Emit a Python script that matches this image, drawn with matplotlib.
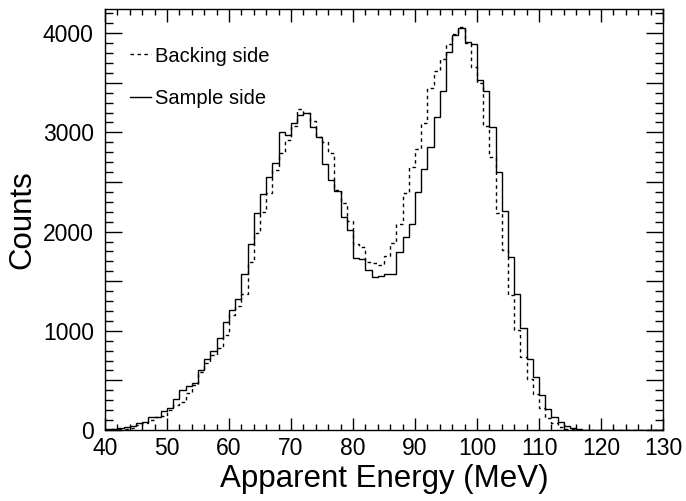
import matplotlib
matplotlib.use("Agg")
import matplotlib.pyplot as plt
from matplotlib.ticker import MultipleLocator, FuncFormatter
import numpy as np

plt.rcParams['font.family'] = ['Liberation Sans', 'DejaVu Sans']

# 1 MeV bins, lower edges 40..129
edges = np.arange(40, 131, 1)

# Sample side (solid)
sample = [10, 15, 22, 35, 45, 75, 85, 130, 135, 195,
          225, 310, 400, 440, 475, 600, 720, 800, 925, 1085,
          1205, 1325, 1575, 1875, 2184, 2378, 2554, 2688, 3000, 2974,
          3098, 3175, 3192, 3058, 2955, 2678, 2520, 2405, 2150, 2016,
          1730, 1725, 1615, 1542, 1552, 1570, 1575, 1798, 1949, 2080,
          2402, 2628, 2856, 3152, 3417, 3807, 3982, 4056, 3914, 3893,
          3530, 3417, 3051, 2604, 2211, 1740, 1370, 1025, 712, 535,
          355, 212, 130, 77, 40, 17, 8, 5, 3, 2,
          2, 1, 1, 1, 0, 0, 0, 0, 0, 0]

# Backing side (dashed)
backing = [5, 8, 12, 15, 20, 50, 67, 100, 128, 141,
           202, 252, 280, 370, 454, 581, 672, 756, 823, 958,
           1159, 1250, 1367, 1697, 1982, 2200, 2386, 2621, 2789, 2923,
           3060, 3240, 3200, 3120, 2950, 2906, 2789, 2420, 2285, 2110,
           1880, 1848, 1697, 1680, 1663, 1754, 1888, 2076, 2386, 2650,
           2829, 3091, 3444, 3622, 3736, 3891, 3992, 4059, 3900, 3662,
           3494, 3064, 2755, 2184, 1814, 1360, 1008, 735, 515, 358,
           225, 118, 70, 34, 15, 8, 4, 3, 2, 1,
           1, 1, 0, 0, 0, 0, 0, 0, 0, 0]

fig = plt.figure(figsize=(6.86, 5.01), dpi=100)
ax = fig.add_axes([0.153, 0.1417, 0.8135, 0.8403])

ax.stairs(backing, edges, color='black', lw=1.0, linestyle=(0, (2.5, 2.5)),
          baseline=None, label='Backing side')
ax.stairs(sample, edges, color='black', lw=1.0, baseline=None,
          label='Sample side')

ax.set_xlim(40, 130)
ax.set_ylim(0, 4244)

ax.xaxis.set_major_locator(MultipleLocator(10))
ax.xaxis.set_minor_locator(MultipleLocator(2))
ax.yaxis.set_major_locator(MultipleLocator(500))
ax.yaxis.set_minor_locator(MultipleLocator(100))
ax.yaxis.set_major_formatter(FuncFormatter(lambda v, p: '%d' % v if v % 1000 == 0 else ''))

ax.tick_params(which='both', direction='in', top=True, right=True, labelsize=16.5)
ax.tick_params(axis='y', which='major', length=12, width=1.0, pad=8)
ax.tick_params(axis='y', which='minor', length=6, width=1.0)
ax.tick_params(axis='x', which='major', length=9, width=1.0, pad=5)
ax.tick_params(axis='x', which='minor', length=4.5, width=1.0)
for s in ax.spines.values():
    s.set_linewidth(1.0)

ax.set_xlabel('Apparent Energy (MeV)', fontsize=22.5, labelpad=3)
ax.set_ylabel('Counts', fontsize=22.5, labelpad=4)

ax.legend(loc='upper left', bbox_to_anchor=(0.03, 0.93), frameon=False,
          fontsize=14.5, handlelength=1.05, handletextpad=0.2,
          labelspacing=1.15, borderaxespad=0)

fig.savefig('out.png', dpi=100)
